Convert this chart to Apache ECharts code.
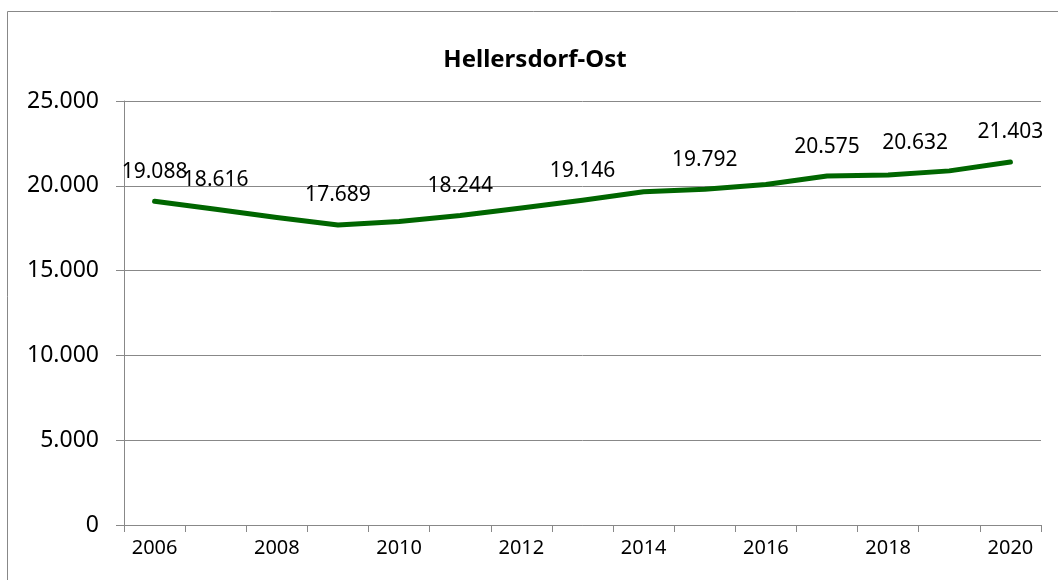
<!DOCTYPE html>
<html>
<head>
<meta charset="utf-8">
<script src="https://cdn.jsdelivr.net/npm/echarts@6/dist/echarts.min.js"></script>
<style>
  html, body { margin: 0; padding: 0; background: #fff; }
  #main { width: 1058px; height: 580px; }
</style>
</head>
<body>
<div id="main"></div>
<script>
// Einwohner Hellersdorf-Ost
var years = ['2006', '2007', '2008', '2009', '2010', '2011', '2012', '2013', '2014', '2015', '2016', '2017', '2018', '2019', '2020'];
var einwohner = [19088, 18616, 18130, 17689, 17900, 18244, 18690, 19146, 19650, 19792, 20080, 20575, 20632, 20880, 21403];
// only these years carry a value label in the original
var labeledYears = ['2006', '2007', '2009', '2011', '2013', '2015', '2017', '2018', '2020'];
// label moved aside by hand in the original so it doesn't collide
var labelNudge = { '2018': [27, -3] };

var fontFam = '"Noto Sans", "Liberation Sans", sans-serif';

// 19088 -> 19.088
function fmt(v) {
  return String(v).replace(/\B(?=(\d{3})+(?!\d))/g, '.');
}

var seriesData = [];
for (var i = 0; i < years.length; i++) {
  seriesData.push({ value: einwohner[i], label: { show: labeledYears.indexOf(years[i]) >= 0 } });
}

var chart = echarts.init(document.getElementById('main'));
chart.setOption({
  animation: false,
  title: {
    text: 'Hellersdorf-Ost',
    left: 530,
    top: 43,
    textAlign: 'center',
    textStyle: { fontFamily: fontFam, fontSize: 24, fontWeight: 'bold', color: '#000' }
  },
  graphic: [{
    type: 'rect',
    shape: { x: 7.5, y: 11.5, width: 1060, height: 620 },
    style: { fill: 'none', stroke: '#888', lineWidth: 1 },
    silent: true
  }],
  grid: { left: 124, right: 17, top: 101, bottom: 55 },
  xAxis: {
    type: 'category',
    data: years,
    boundaryGap: true,
    axisLine: { lineStyle: { color: '#888', width: 1 } },
    axisTick: { show: true, interval: 0, length: 7, lineStyle: { color: '#888' } },
    axisLabel: { interval: 1, margin: 13, color: '#000', fontFamily: fontFam, fontSize: 20 },
    splitLine: { show: false }
  },
  yAxis: {
    type: 'value',
    min: 0,
    max: 25000,
    interval: 5000,
    axisLine: { show: true, lineStyle: { color: '#888', width: 1 } },
    axisTick: { show: true, length: 8, lineStyle: { color: '#888' } },
    axisLabel: {
      margin: 25, color: '#000', fontFamily: fontFam, fontSize: 23,
      formatter: function (v) { return fmt(v); }
    },
    splitLine: { show: true, lineStyle: { color: '#888', width: 1 } }
  },
  series: [{
    name: 'Hellersdorf-Ost',
    type: 'line',
    data: seriesData,
    symbol: 'circle',
    symbolSize: 0,
    showSymbol: true,
    smooth: false,
    lineStyle: { color: '#006600', width: 5, cap: 'round', join: 'round' },
    itemStyle: { color: '#006600' },
    label: {
      position: 'top',
      distance: 19,
      color: '#000',
      fontFamily: fontFam,
      fontSize: 21,
      formatter: function (p) { return fmt(p.value); }
    },
    labelLayout: function (params) {
      var n = labelNudge[years[params.dataIndex]];
      if (!n) return { hideOverlap: false };
      return { hideOverlap: false, dx: n[0], dy: n[1] };
    }
  }]
});
</script>
</body>
</html>
